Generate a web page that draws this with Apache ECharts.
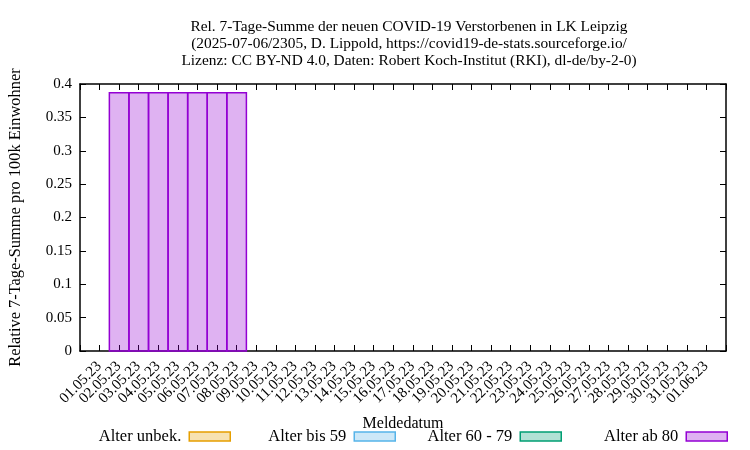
<!DOCTYPE html>
<html><head><meta charset="utf-8">
<script src="https://cdn.jsdelivr.net/npm/echarts@6/dist/echarts.min.js"></script>
<style>html,body{margin:0;padding:0;background:#fff}#c{width:750px;height:450px}</style>
</head><body><div id="c"></div>
<script>
const titleLines = [
  'Rel. 7-Tage-Summe der neuen COVID-19 Verstorbenen in LK Leipzig',
  '(2025-07-06/2305, D. Lippold, https://covid19-de-stats.sourceforge.io/',
  'Lizenz: CC BY-ND 4.0, Daten: Robert Koch-Institut (RKI), dl-de/by-2-0)'
];
const dates = ['01.05.23','02.05.23','03.05.23','04.05.23','05.05.23','06.05.23','07.05.23','08.05.23',
  '09.05.23','10.05.23','11.05.23','12.05.23','13.05.23','14.05.23','15.05.23','16.05.23',
  '17.05.23','18.05.23','19.05.23','20.05.23','21.05.23','22.05.23','23.05.23','24.05.23',
  '25.05.23','26.05.23','27.05.23','28.05.23','29.05.23','30.05.23','31.05.23','01.06.23'];
const seriesNames = ['Alter unbek.','Alter bis 59','Alter 60 - 79','Alter ab 80'];
const alterUnbek = [0,0,0,0,0,0,0,0,0,0,0,0,0,0,0,0,0,0,0,0,0,0,0,0,0,0,0,0,0,0,0,0];
const alterBis59 = [0,0,0,0,0,0,0,0,0,0,0,0,0,0,0,0,0,0,0,0,0,0,0,0,0,0,0,0,0,0,0,0];
const alter60bis79 = [0,0,0,0,0,0,0,0,0,0,0,0,0,0,0,0,0,0,0,0,0,0,0,0,0,0,0,0,0,0,0,0];
const alterAb80 = [0,0.387,0.387,0.387,0.387,0.387,0.387,0.387,0,0,0,0,0,0,0,0,0,0,0,0,0,0,0,0,0,0,0,0,0,0,0,0];
const yTicks = [0,0.05,0.1,0.15,0.2,0.25,0.3,0.35,0.4];

const allValues = [alterUnbek, alterBis59, alter60bis79, alterAb80];
const strokes = ['#e69f00','#56b4e9','#009e73','#9400d3'];
const fills = ['rgba(230,159,0,0.3)','rgba(86,180,233,0.3)','rgba(0,158,115,0.3)','rgba(148,0,211,0.3)'];
const FONT = 'Liberation Serif';

const series = allValues.map((vals, s) => {
  const data = vals.map((v, i) => {
    let base = 0;
    for (let k = 0; k < s; k++) base += allValues[k][i];
    return [i, v, base];
  });
  return {
    type: 'custom', name: seriesNames[s], xAxisIndex: 0, yAxisIndex: 0,
    encode: {x: 0, y: 1},
    itemStyle: {color: fills[s], borderColor: strokes[s], borderWidth: 1.5},
    renderItem: function (params, api) {
      const x = api.value(0), y = api.value(1), base = api.value(2);
      if (!y) return null;
      const p1 = api.coord([x - 0.5, base + y]);
      const p2 = api.coord([x + 0.5, base]);
      return {type: 'rect', shape: {x: p1[0], y: p1[1], width: p2[0] - p1[0], height: p2[1] - p1[1]},
        style: {fill: fills[s], stroke: strokes[s], lineWidth: 1.5}};
    },
    data: data
  };
});

const legendRight = [519, 354, 188, 22];
const legends = seriesNames.map((n, s) => ({
  right: legendRight[s], top: 428, padding: 0, align: 'right', orient: 'horizontal',
  itemWidth: 41, itemHeight: 9, icon: 'rect', selectedMode: false,
  textStyle: {fontFamily: FONT, fontSize: 16.5, color: '#000', padding: [0, 3, 0, 0]},
  data: [{name: n, itemStyle: {color: fills[s], borderColor: strokes[s], borderWidth: 1.5}}]
}));

const axisLine = {show: true, onZero: false, lineStyle: {color: '#000', width: 1.5}};
const tick = {show: true, inside: true, length: 6, lineStyle: {color: '#000', width: 1}};

const option = {
  backgroundColor: '#fff',
  animation: false,
  title: {
    text: titleLines.join('\n'), left: 404, top: 13, textAlign: 'center',
    textStyle: {fontFamily: FONT, fontSize: 15.4, fontWeight: 'normal', color: '#000', lineHeight: 17}
  },
  legend: legends,
  grid: {left: 80, right: 24, top: 84, bottom: 99, containLabel: false},
  xAxis: [{
    type: 'value', position: 'bottom', min: -1, max: 32, interval: 1,
    name: 'Meldedatum', nameLocation: 'middle', nameGap: 65,
    nameTextStyle: {fontFamily: FONT, fontSize: 16, color: '#000'},
    axisLine: axisLine, axisTick: tick, splitLine: {show: false},
    axisLabel: {rotate: 45, margin: 2, verticalAlign: 'top', padding: [0, 8, 0, 0], fontFamily: FONT, fontSize: 15, color: '#000',
      showMinLabel: true, showMaxLabel: true,
      formatter: function (v) { const i = Math.round(v); return (Math.abs(v - i) < 1e-6 && i >= 0 && i < dates.length) ? dates[i] : ''; }}
  }, {
    type: 'value', position: 'top', min: -1, max: 32, interval: 1,
    axisLine: axisLine, axisTick: tick, axisLabel: {show: false}, splitLine: {show: false}
  }],
  yAxis: [{
    type: 'value', position: 'left', min: 0, max: 0.4, interval: 0.05,
    name: 'Relative 7-Tage-Summe pro 100k Einwohner', nameLocation: 'middle', nameGap: 56,
    nameTextStyle: {fontFamily: FONT, fontSize: 16.4, color: '#000'},
    axisLine: axisLine, axisTick: tick, splitLine: {show: false},
    axisLabel: {margin: 8, fontFamily: FONT, fontSize: 15, color: '#000',
      formatter: function (v) { const t = yTicks.find(k => Math.abs(k - v) < 1e-9); return t === undefined ? '' : String(t); }}
  }, {
    type: 'value', position: 'right', min: 0, max: 0.4, interval: 0.05,
    axisLine: axisLine, axisTick: tick, axisLabel: {show: false}, splitLine: {show: false}
  }],
  series: series
};
const chart = echarts.init(document.getElementById('c'), null, {renderer: 'canvas'});
chart.setOption(option);
</script></body></html>
